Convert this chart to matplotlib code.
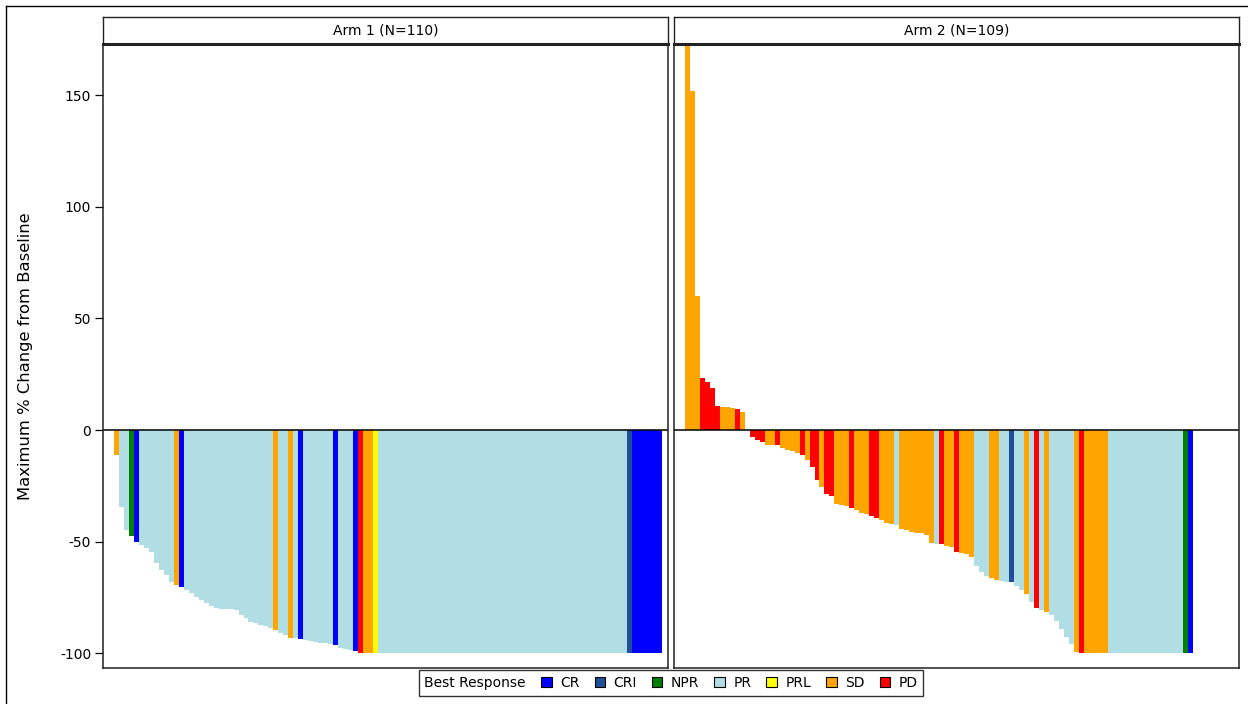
import matplotlib
matplotlib.use("Agg")
import matplotlib.pyplot as plt
from matplotlib.patches import Patch
from matplotlib.lines import Line2D

plt.rcParams['font.family'] = ['DejaVu Sans']

# ---------------- data ----------------
response_types = ["CR", "CRI", "NPR", "PR", "PRL", "SD", "PD"]
response_colors = ["#0000FF", "#1F4E9A", "#007F00", "#B0DEE4", "#FFFF00", "#FFA500", "#FF0000"]

panel_titles = ["Arm 1 (N=110)", "Arm 2 (N=109)"]

arm1_response = (
    ["SD", "PR", "PR", "NPR", "CR", "PR", "PR", "PR", "PR", "PR",
     "PR", "PR", "SD", "CR", "PR", "PR", "PR", "PR", "PR", "PR",
     "PR", "PR", "PR", "PR", "PR", "PR", "PR", "PR", "PR", "PR",
     "PR", "PR", "SD", "PR", "PR", "SD", "PR", "CR", "PR", "PR",
     "PR", "PR", "PR", "PR", "CR", "PR", "PR", "PR", "CR", "PD",
     "SD", "SD", "PRL"]
    + ["PR"] * 50 + ["CRI"] + ["CR"] * 6
)
arm1_change = (
    [-11, -34.5, -44.8, -47.5, -50, -51.5, -53, -54.5, -59.7, -62.7,
     -65, -68, -69.4, -70.1, -71.6, -73, -74.6, -76, -77.6, -78.8,
     -79.8, -80.3, -80.3, -80.3, -80.6, -82.8, -84.4, -85.9, -86.6, -87.3,
     -88, -88.5, -89.5, -91, -92, -93, -93.2, -93.5, -94, -94.5,
     -95, -95.3, -95.5, -96, -96.4, -97.5, -98.3, -98.7, -99, -100,
     -100, -100, -100]
    + [-100] * 50 + [-100] + [-100] * 6
)

arm2_response = (
    ["SD", "SD", "SD", "PD", "PD", "PD", "PD", "SD", "SD", "SD",
     "PD", "SD", "SD", "PD", "PD", "PD", "SD", "SD", "PD", "SD",
     "SD", "SD", "SD", "PD", "SD", "PD", "PD", "SD", "PD", "PD",
     "SD", "SD", "SD", "PD", "SD", "SD", "SD", "PD", "PD", "SD",
     "SD", "SD", "PR", "SD", "SD", "SD", "SD", "SD", "SD", "SD",
     "PR", "PD", "SD", "SD", "PD", "SD", "SD", "SD", "PR", "PR",
     "PR", "SD", "SD", "PR", "PR", "CRI", "PR", "PR", "SD", "PR",
     "PD", "PR", "SD", "PR", "PR", "PR", "PR", "PR", "SD", "PD"]
    + ["SD"] * 5 + ["PR"] * 15 + ["NPR", "CR"]
)
arm2_change = (
    [190, 152, 60, 23.4, 21.6, 18.7, 10.9, 10.4, 10.4, 9.7,
     9.4, 8.2, 0, -3, -4.5, -5.2, -6.5, -6.7, -6.8, -8.2,
     -9, -9.5, -10.5, -11.2, -13.4, -16.4, -22.4, -25.4, -28.5, -29.5,
     -33, -33.5, -34, -34.8, -36, -37, -37.5, -38.5, -39.2, -40.5,
     -41.5, -42, -42.5, -44.5, -45, -45.5, -46, -46, -47, -50.5,
     -51, -51, -52, -52.5, -54.5, -55, -55.5, -56.7, -61, -63.5,
     -65.5, -66.5, -67, -67.5, -68, -68.2, -70, -71.5, -73.4, -77,
     -79.6, -80.5, -81.3, -83, -85.5, -89, -92.5, -96, -99.3, -100]
    + [-100] * 5 + [-100] * 15 + [-100, -100]
)

y_ticks = [-100, -50, 0, 50, 100, 150]
y_label = "Maximum % Change from Baseline"
legend_title = "Best Response"

# ---------------- figure ----------------
W, H = 1248, 704
fig = plt.figure(figsize=(W / 100, H / 100), dpi=100)
fig.patch.set_facecolor("white")

def fx(px):
    return px / W

def fy(py):
    return 1 - py / H

color_of = dict(zip(response_types, response_colors))

panels = [(103, 668), (674, 1239)]
top_px, bot_px = 44, 668
strip_top = 17

arms = [(arm1_change, arm1_response), (arm2_change, arm2_response)]

for k, ((x0, x1), (vals, resp)) in enumerate(zip(panels, arms)):
    ax = fig.add_axes([fx(x0), fy(bot_px), fx(x1 - x0), (bot_px - top_px) / H])
    xs = list(range(1, len(vals) + 1))
    ax.bar(xs, vals, width=1.0, color=[color_of[r] for r in resp],
           edgecolor="none", linewidth=0, antialiased=False)
    ax.axhline(0, color="black", lw=1.1)
    ax.set_xlim(-1.7, 111.7)
    ax.set_ylim(-106.6, 172.9)
    ax.set_xticks([])
    for s in ax.spines.values():
        s.set_linewidth(1.1)
        s.set_color("#222222")
    if k == 0:
        ax.set_yticks(y_ticks)
        ax.set_yticklabels([str(t) for t in y_ticks], fontsize=10)
        ax.tick_params(axis="y", direction="out", length=5.5, width=0.9, pad=3)
        ax.set_ylabel(y_label, fontsize=11.8)
        ax.yaxis.set_label_coords((33 - x0) / (x1 - x0), 0.5)
    else:
        ax.set_yticks([])

    # strip header
    sax = fig.add_axes([fx(x0), fy(top_px), fx(x1 - x0), (top_px - strip_top) / H])
    sax.set_xticks([])
    sax.set_yticks([])
    for name, s in sax.spines.items():
        s.set_color("#222222")
        s.set_linewidth(2.2 if name == "bottom" else 1.0)
    sax.text(0.5, 0.5, panel_titles[k], ha="center", va="center",
             fontsize=10, transform=sax.transAxes)

# legend with the title placed inline on the left
handles = []
labels = []
for r, c in zip(response_types, response_colors):
    handles.append(Patch(facecolor=c, edgecolor="black", linewidth=0.8))
    labels.append(r)
leg = fig.legend(handles, labels, ncol=len(labels), loc="center",
                 bbox_to_anchor=(fx(671), fy(683)), frameon=True, fancybox=False,
                 edgecolor="black", fontsize=10, handlelength=0.75, handleheight=0.75,
                 handletextpad=0.6, columnspacing=1.05, borderpad=0.4,
                 borderaxespad=0, title=legend_title, title_fontsize=10)
leg.get_frame().set_linewidth(1.0)
box = leg.get_children()[0]
title_box = box.get_children()[0]
hpack = box.get_children()[1]
box._children = [hpack]
hpack._children = [title_box] + hpack.get_children()
hpack.sep = 11

# outer frame (top and left)
fig.add_artist(Line2D([fx(6), fx(1248)], [fy(6), fy(6)], color="black", lw=1.0))
fig.add_artist(Line2D([fx(6), fx(6)], [fy(6), fy(704)], color="black", lw=1.0))

fig.savefig("out.png", dpi=100, facecolor="white")
